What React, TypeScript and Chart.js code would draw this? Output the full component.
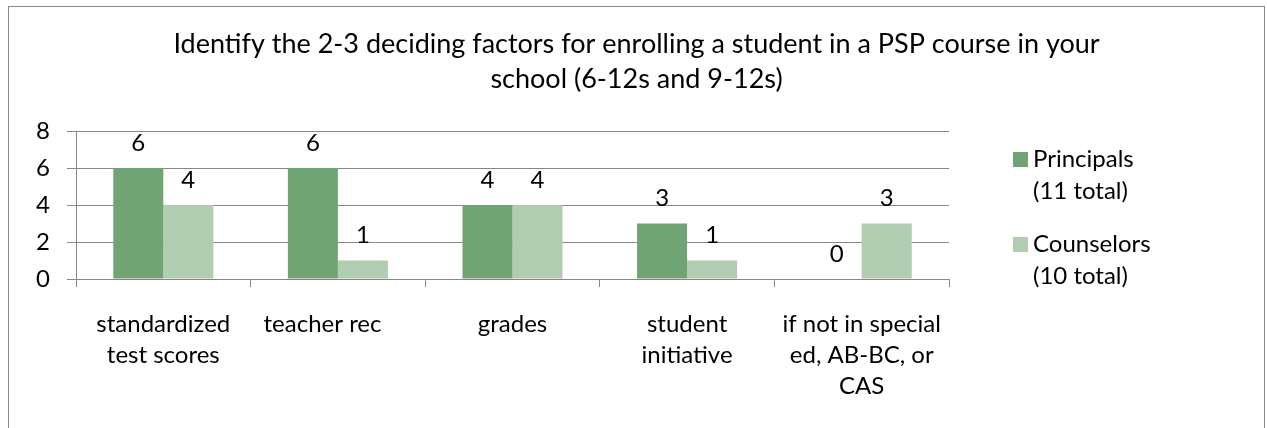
import { useEffect, useRef } from 'react';
import { Chart, registerables } from 'chart.js';

Chart.register(...registerables);

const titleLines = [
  'Identify the 2-3 deciding factors for enrolling a student in a PSP course in your',
  'school (6-12s and 9-12s)',
];
const categories: (string | string[])[] = [
  ['standardized', 'test scores'],
  'teacher rec     ',
  'grades',
  ['student', 'initiative'],
  ['if not in special', 'ed, AB-BC, or', 'CAS'],
];
const principals = [6, 6, 4, 3, 0];
const counselors = [4, 1, 4, 1, 3];
const seriesLabels = [
  ['Principals', '(11 total)'],
  ['Counselors', '(10 total)'],
];
const seriesColors = ['#71A475', '#B0CDB1'];
const yMin = 0;
const yMax = 8;
const yStep = 2;

const FONT = 'Lato, "Open Sans", sans-serif';
const GRID = '#878787';
const TEXT_SIZE = 24;

// Writes each bar's value above it.
const valueLabels = {
  id: 'valueLabels',
  afterDatasetsDraw(chart: any) {
    const ctx = chart.ctx;
    ctx.save();
    ctx.font = `${TEXT_SIZE}px ${FONT}`;
    ctx.fillStyle = '#000';
    ctx.textAlign = 'center';
    ctx.textBaseline = 'middle';
    chart.data.datasets.forEach((ds: any, i: number) => {
      const meta = chart.getDatasetMeta(i);
      meta.data.forEach((el: any, j: number) => {
        ctx.fillText(String(ds.data[j]), el.x, el.y - 25);
      });
    });
    ctx.restore();
  },
};

// Legend on the right with two-line entries.
const sideLegend = {
  id: 'sideLegend',
  afterDraw(chart: any) {
    const ctx = chart.ctx;
    const area = chart.chartArea;
    const boxX = area.right + 64;
    const textX = area.right + 84;
    const lineH = 32;
    const entryGap = 85;
    ctx.save();
    ctx.font = `${TEXT_SIZE}px ${FONT}`;
    ctx.textAlign = 'left';
    ctx.textBaseline = 'middle';
    chart.data.datasets.forEach((ds: any, i: number) => {
      const y0 = area.top + 28 + i * entryGap;
      ctx.fillStyle = ds.backgroundColor;
      ctx.fillRect(boxX, y0 - 7, 15, 15);
      ctx.fillStyle = '#000';
      (ds.label as string[]).forEach((line: string, k: number) => {
        ctx.fillText(line, textX, y0 + k * lineH);
      });
    });
    ctx.restore();
  },
};

export default function App() {
  const canvasRef = useRef<HTMLCanvasElement | null>(null);

  useEffect(() => {
    if (!canvasRef.current) return;
    const chart = new Chart(canvasRef.current, {
      type: 'bar',
      data: {
        labels: categories,
        datasets: [
          {
            label: seriesLabels[0] as any,
            data: principals,
            backgroundColor: seriesColors[0],
            barPercentage: 1,
            categoryPercentage: 0.573,
          },
          {
            label: seriesLabels[1] as any,
            data: counselors,
            backgroundColor: seriesColors[1],
            barPercentage: 1,
            categoryPercentage: 0.573,
          },
        ],
      },
      options: {
        animation: false,
        responsive: false,
        maintainAspectRatio: false,
        layout: { padding: 0 },
        plugins: {
          legend: { display: false },
          tooltip: { enabled: false },
          title: {
            display: true,
            text: titleLines,
            color: '#000',
            font: { family: FONT, size: 27, weight: 'normal', lineHeight: 35 / 27 },
            padding: { top: 20, bottom: 34 },
          },
        },
        scales: {
          x: {
            offset: true,
            grid: {
              offset: true,
              drawOnChartArea: false,
              drawTicks: true,
              tickLength: 8,
              color: GRID,
            },
            border: { display: true, color: GRID, width: 1 },
            ticks: {
              color: '#000',
              font: { family: FONT, size: TEXT_SIZE, lineHeight: 31 / TEXT_SIZE },
              padding: 22,
              maxRotation: 0,
              autoSkip: false,
            },
          },
          y: {
            min: yMin,
            max: yMax,
            afterFit: (scale: any) => {
              scale.width = 67;
            },
            grid: { color: GRID, tickLength: 9, drawTicks: true },
            border: { display: true, color: GRID, width: 1 },
            ticks: {
              stepSize: yStep,
              color: '#000',
              font: { family: FONT, size: TEXT_SIZE },
              padding: 17,
            },
          },
          // Empty right-hand axis that reserves room for the legend.
          legendSpace: {
            type: 'linear',
            position: 'right',
            display: true,
            afterFit: (scale: any) => {
              scale.width = 315;
            },
            grid: { display: false, drawOnChartArea: false },
            border: { display: false },
            ticks: { display: false },
          },
        },
      },
      plugins: [valueLabels, sideLegend],
    });
    return () => chart.destroy();
  }, []);

  return (
    <div
      style={{
        position: 'fixed',
        left: 8,
        top: 6,
        width: 1255,
        height: 440,
        border: `1px solid ${GRID}`,
        background: '#fff',
      }}
    >
      <canvas ref={canvasRef} width={1255} height={417} style={{ display: 'block' }} />
    </div>
  );
}
